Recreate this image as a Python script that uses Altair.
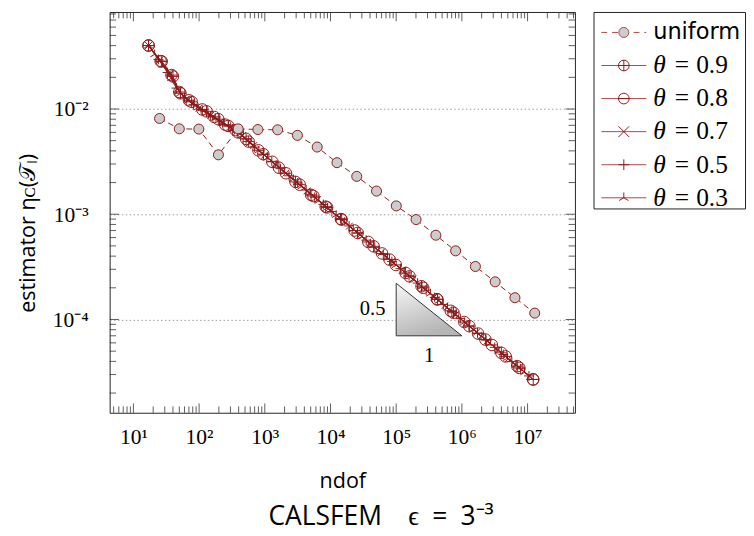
import altair as alt
import pandas as pd

RED = "#8B1A1A"
W, H = 476, 410
XDOM = [4.35, 5.26e7]
YDOM = [1.30e-5, 0.0835]

# ---- data ----
uniform_ndof = [25, 50, 99, 197, 393, 785, 1569, 3137, 6273, 12545, 25089, 50177,
                100353, 200705, 401409, 802817, 1605633, 3211265, 6422529, 12845057]
uniform_est = [8.13e-3, 6.48e-3, 6.44e-3, 3.67e-3, 6.48e-3, 6.38e-3, 6.34e-3, 5.62e-3,
               4.35e-3, 3.09e-3, 2.29e-3, 1.66e-3, 1.20e-3, 8.9e-4, 6.32e-4, 4.49e-4,
               3.19e-4, 2.28e-4, 1.61e-4, 1.15e-4]

t09_ndof = [17, 27, 40, 52, 77, 130, 196, 278, 390, 568, 950, 1640, 2930, 5060, 8460,
            14800, 25900, 45300, 79300, 139000, 243000, 425000, 744000, 1300000,
            2280000, 3990000, 6980000, 12200000]
t09_est = [0.0401, 0.0283, 0.0204, 0.0141, 0.0117, 0.0095, 0.0080, 0.0069, 0.0060,
           0.0049, 0.00372, 0.00277, 0.00203, 0.00153, 0.00118, 8.9e-4, 6.64e-4,
           4.96e-4, 3.71e-4, 2.77e-4, 2.07e-4, 1.55e-4, 1.16e-4, 8.64e-5, 6.45e-5,
           4.82e-5, 3.60e-5, 2.69e-5]

t08_ndof = [17, 26, 38, 50, 70, 112, 170, 250, 360, 520, 800, 1300, 2100, 3400, 5500,
            8900, 14400, 23300, 37700, 61000, 98700, 160000, 258000, 418000, 676000,
            1090000, 1770000, 2860000, 4630000, 7490000, 12100000]
t08_est = [0.0401, 0.0285, 0.0210, 0.0145, 0.0121, 0.0099, 0.0084, 0.0071, 0.0063,
           0.0052, 0.00405, 0.00315, 0.00245, 0.00191, 0.00149, 0.00116, 9.0e-4,
           7.01e-4, 5.45e-4, 4.24e-4, 3.30e-4, 2.57e-4, 2.00e-4, 1.56e-4, 1.21e-4,
           9.46e-5, 7.35e-5, 5.73e-5, 4.46e-5, 3.47e-5, 2.70e-5]

t07_ndof = [17, 25, 36, 49, 68, 100, 150, 220, 320, 460, 680, 990, 1440, 2090, 3030,
            4400, 6380, 9250, 13400, 19400, 28100, 40800, 59100, 85700, 124000, 180000,
            261000, 378000, 548000, 795000, 1150000, 1670000, 2420000, 3510000,
            5090000, 7380000, 10700000]
t07_est = [0.0401, 0.0290, 0.0214, 0.0150, 0.0122, 0.0102, 0.0087, 0.0074, 0.0065,
           0.0056, 0.0045, 0.00363, 0.00299, 0.00246, 0.00203, 0.00167, 0.00138,
           0.00113, 9.35e-4, 7.71e-4, 6.36e-4, 5.23e-4, 4.32e-4, 3.56e-4, 2.93e-4,
           2.42e-4, 1.99e-4, 1.64e-4, 1.35e-4, 1.11e-4, 9.20e-5, 7.58e-5, 6.25e-5,
           5.14e-5, 4.24e-5, 3.50e-5, 2.88e-5]

t05_ndof = [17, 24, 33, 45, 60, 82, 112, 150, 205, 280, 380, 520, 700, 950, 1280, 1730,
            2340, 3160, 4270, 5760, 7780, 10500, 14200, 19200, 25900, 35000, 47200,
            63700, 86000, 116000, 157000, 212000, 286000, 386000, 521000, 703000,
            949000, 1280000, 1730000, 2340000, 3160000, 4270000, 5760000, 7780000,
            10500000]
t05_est = [0.0401, 0.0296, 0.0222, 0.0158, 0.0128, 0.0110, 0.0097, 0.0086, 0.0077,
           0.0069, 0.0061, 0.0052, 0.00435, 0.00371, 0.00318, 0.00271, 0.00232,
           0.00198, 0.00170, 0.00145, 0.00124, 0.00106, 9.06e-4, 7.75e-4, 6.63e-4,
           5.67e-4, 4.85e-4, 4.15e-4, 3.55e-4, 3.04e-4, 2.60e-4, 2.22e-4, 1.90e-4,
           1.62e-4, 1.39e-4, 1.19e-4, 1.02e-4, 8.70e-5, 7.44e-5, 6.36e-5, 5.44e-5,
           4.65e-5, 3.98e-5, 3.40e-5, 2.91e-5]

t03_ndof = [17, 21, 28, 38, 52, 70, 96, 130, 176, 240, 325, 445, 600, 810, 1100, 1490,
            2010, 2710, 3660, 4950, 6680, 9010, 12200, 16400, 22200, 30000, 40500,
            54700, 73900, 99800, 135000, 182000, 246000, 332000, 448000, 605000,
            816000, 1100000, 1490000, 2010000, 2710000, 3660000, 4950000, 6680000,
            9010000]
t03_est = [0.0401, 0.0330, 0.0262, 0.0196, 0.0140, 0.0120, 0.0103, 0.0091, 0.0082,
           0.0073, 0.0065, 0.0056, 0.00471, 0.00403, 0.00343, 0.00293, 0.00251,
           0.00215, 0.00184, 0.00157, 0.00134, 0.00115, 9.81e-4, 8.41e-4, 7.18e-4,
           6.14e-4, 5.25e-4, 4.49e-4, 3.84e-4, 3.28e-4, 2.81e-4, 2.40e-4, 2.05e-4,
           1.76e-4, 1.50e-4, 1.29e-4, 1.10e-4, 9.42e-5, 8.04e-5, 6.88e-5, 5.89e-5,
           5.03e-5, 4.30e-5, 3.68e-5, 3.15e-5]

names = ["uniform", "θ = 0.9", "θ = 0.8", "θ = 0.7", "θ = 0.5", "θ = 0.3"]
theta_vals = ["", "0.9", "0.8", "0.7", "0.5", "0.3"]

# triangle (slope 0.5 over one decade)
tri_x = [1e5, 1e6]
tri_bottom = 7.0e-5
tri_top = 2.21e-4

# axis ticks
x_major = [1e1, 1e2, 1e3, 1e4, 1e5, 1e6, 1e7]
y_major = [1e-4, 1e-3, 1e-2]
x_minor = [k * 10.0 ** e for e in range(0, 8) for k in range(2, 10)
           if XDOM[0] <= k * 10.0 ** e <= XDOM[1]]
y_minor = [k * 10.0 ** e for e in range(-5, -1) for k in range(2, 10)
           if YDOM[0] <= k * 10.0 ** e <= YDOM[1]]

# marker shapes
CIRC = "M-1,0A1,1,0,1,0,1,0A1,1,0,1,0,-1,0Z"
P_OPLUS = CIRC + "M-1,0L1,0M0,-1L0,1"
P_OMINUS = CIRC + "M-1,0L1,0"
P_X = "M-1,-1L1,1M-1,1L1,-1"
P_PLUS = "M-1,0L1,0M0,-1L0,1"
P_TRI = "M0,0L0,-1M0,0L-0.866,0.5M0,0L0.866,0.5"

SERIF = "Liberation Serif"
SANS = "Open Sans"

xs = alt.Scale(type="log", domain=XDOM, nice=False)
ys = alt.Scale(type="log", domain=YDOM, nice=False)


def df_of(nd, est):
    return pd.DataFrame({"x": nd, "y": est})


X_AXIS = alt.Axis(values=x_major, ticks=False, domain=False, grid=False,
                  labelExpr="'10' + ['⁰','¹','²','³','⁴','⁵','⁶','⁷','⁸'][round(log(datum.value)/LN10)]",
                  labelFont=SERIF, labelFontSize=22, labelColor="black", labelPadding=14,
                  title="ndof", titleFont=SANS, titleFontSize=22, titleFontWeight="normal",
                  titleColor="black", titlePadding=24, labelFlush=False)
Y_AXIS = alt.Axis(values=y_major, ticks=False, domain=False, grid=True,
                  gridDash=[1.5, 2.5], gridColor="#9a9a9a", gridWidth=1,
                  labelExpr="'10⁻' + ['⁰','¹','²','³','⁴','⁵','⁶'][round(-log(datum.value)/LN10)]",
                  labelFont=SERIF, labelFontSize=22, labelColor="black", labelPadding=22,
                  title="estimator ηᴄ(𝒯ₗ)", titleFont=SANS, titleFontSize=22,
                  titleFontWeight="normal", titleColor="black", titlePadding=13,
                  titleY=226, labelFlush=False)


def XE():
    return alt.X("x:Q", scale=xs, axis=X_AXIS)


def YE():
    return alt.Y("y:Q", scale=ys, axis=Y_AXIS)


layers = []
uni = df_of(uniform_ndof, uniform_est)
layers.append(alt.Chart(uni).mark_line(color=RED, strokeWidth=1, strokeDash=[6, 4]).encode(
    x=XE(), y=YE()))

# inward ticks
TC = "#333333"
for vals, ln in [(x_major, 9.5), (x_minor, 6.5)]:
    d = pd.DataFrame({"x": vals})
    layers.append(alt.Chart(d).mark_rule(color=TC, strokeWidth=0.8).encode(
        x=XE(), y=alt.value(H), y2=alt.value(H - ln)))
    layers.append(alt.Chart(d).mark_rule(color=TC, strokeWidth=0.8).encode(
        x=XE(), y=alt.value(0), y2=alt.value(ln)))
for vals, ln in [(y_major, 9.5), (y_minor, 6.5)]:
    d = pd.DataFrame({"y": vals})
    layers.append(alt.Chart(d).mark_rule(color=TC, strokeWidth=0.8).encode(
        y=YE(), x=alt.value(0), x2=alt.value(ln)))
    layers.append(alt.Chart(d).mark_rule(color=TC, strokeWidth=0.8).encode(
        y=YE(), x=alt.value(W), x2=alt.value(W - ln)))

# slope triangle
tri_area = pd.DataFrame({"x": tri_x, "y": [tri_top, tri_bottom], "y2": [tri_bottom, tri_bottom]})
grad = alt.Gradient(gradient="linear",
                    stops=[alt.GradientStop(color="#f7f7f7", offset=0),
                           alt.GradientStop(color="#b5b5b5", offset=1)],
                    x1=0, y1=0, x2=0.4, y2=1)
layers.append(alt.Chart(tri_area).mark_area(color=grad, line=False).encode(
    x=XE(), y=YE(), y2="y2:Q"))
tri_line = pd.DataFrame({"x": [tri_x[0], tri_x[1], tri_x[0], tri_x[0]],
                         "y": [tri_bottom, tri_bottom, tri_top, tri_bottom],
                         "o": [0, 1, 2, 3]})
layers.append(alt.Chart(tri_line).mark_line(color="#333333", strokeWidth=1).encode(
    x=XE(), y=YE(), order="o:Q"))
lab = pd.DataFrame({"x": [tri_x[0], (tri_x[0] * tri_x[1]) ** 0.5],
                    "y": [(tri_bottom * tri_top) ** 0.5, tri_bottom],
                    "t": ["0.5", "1"]})
layers.append(alt.Chart(lab).transform_filter("datum.t == '0.5'").mark_text(
    font=SERIF, fontSize=21, align="right", baseline="middle", dx=-11, color="black").encode(
    x=XE(), y=YE(), text="t:N"))
layers.append(alt.Chart(lab).transform_filter("datum.t == '1'").mark_text(
    font=SERIF, fontSize=21, align="center", baseline="middle", dy=21, color="black").encode(
    x=XE(), y=YE(), text="t:N"))

# adaptive series
adaptive = [
    (t09_ndof, t09_est, P_OPLUS, 140),
    (t08_ndof, t08_est, P_OMINUS, 140),
    (t07_ndof, t07_est, P_X, 50),
    (t05_ndof, t05_est, P_PLUS, 100),
    (t03_ndof, t03_est, P_TRI, 100),
]
for nd, est, shp, sz in adaptive:
    d = df_of(nd, est)
    layers.append(alt.Chart(d).mark_line(color=RED, strokeWidth=1).encode(x=XE(), y=YE()))
    layers.append(alt.Chart(d).mark_point(shape=shp, size=sz, filled=False, color=RED,
                                          strokeWidth=1, opacity=1).encode(x=XE(), y=YE()))

# uniform markers on top
layers.append(alt.Chart(uni).mark_point(shape="circle", size=105, filled=True, fill="#cccccc",
                                        stroke=RED, strokeWidth=1, opacity=1,
                                        fillOpacity=1).encode(x=XE(), y=YE()))

main = alt.layer(*layers).properties(width=W, height=H)

# ---- legend panel ----
LW, LH = 155, 201
leg = pd.DataFrame({"name": names, "val": theta_vals})
LY = alt.Y("name:N", scale=alt.Scale(domain=names, range=[4, 207]), axis=None)
LRED = "#a84848"
leg_layers = [
    alt.Chart(leg).transform_filter("datum.name == 'uniform'").mark_rule(
        color=LRED, strokeWidth=1, strokeDash=[6, 5]).encode(
        x=alt.value(8), x2=alt.value(54), y=LY),
    alt.Chart(leg).transform_filter("datum.name != 'uniform'").mark_rule(
        color=LRED, strokeWidth=1).encode(x=alt.value(8), x2=alt.value(54), y=LY),
    alt.Chart(leg).transform_filter("datum.name == 'uniform'").mark_point(
        shape="circle", size=105, filled=True, fill="#cccccc", stroke=LRED, strokeWidth=1,
        opacity=1).encode(x=alt.value(31), y=LY),
    alt.Chart(leg).transform_filter("datum.name != 'uniform'").mark_point(
        filled=False, color=RED, strokeWidth=1, opacity=1).encode(
        x=alt.value(31), y=LY,
        shape=alt.Shape("name:N", scale=alt.Scale(domain=names[1:],
                        range=[P_OPLUS, P_OMINUS, P_X, P_PLUS, P_TRI]), legend=None),
        size=alt.Size("name:N", scale=alt.Scale(domain=names[1:],
                      range=[120, 120, 40, 90, 90]), legend=None)),
    alt.Chart(leg).transform_filter("datum.name == 'uniform'").mark_text(
        font="DejaVu Sans", fontSize=23, align="left", baseline="middle", color="black").encode(
        x=alt.value(61), y=LY, text="name:N"),
    alt.Chart(leg).transform_filter("datum.name != 'uniform'").mark_text(
        font=SERIF, fontSize=26, fontStyle="italic", align="left", baseline="middle",
        color="black", text="θ").encode(x=alt.value(61), y=LY),
    alt.Chart(leg).transform_filter("datum.name != 'uniform'").mark_text(
        font=SERIF, fontSize=26, align="left", baseline="middle", color="black",
        text="=").encode(x=alt.value(83), y=LY),
    alt.Chart(leg).transform_filter("datum.name != 'uniform'").mark_text(
        font=SERIF, fontSize=26, align="left", baseline="middle", color="black").encode(
        x=alt.value(105), y=LY, text="val:N"),
]
legend = alt.layer(*leg_layers).properties(width=LW, height=LH)

chart = alt.hconcat(main, legend, spacing=17).properties(
    padding={"left": 8, "top": -3, "right": 0, "bottom": 0},
    title=alt.TitleParams("CALSFEM\u2003ϵ\u2002=\u20023⁻³", orient="bottom", anchor="middle",
                          font=SANS, fontSize=27, fontWeight="normal", color="black", offset=13)
).configure_view(stroke="#222222", strokeWidth=1)

chart.save("out.html", embed_options={"renderer": "svg", "actions": False})
